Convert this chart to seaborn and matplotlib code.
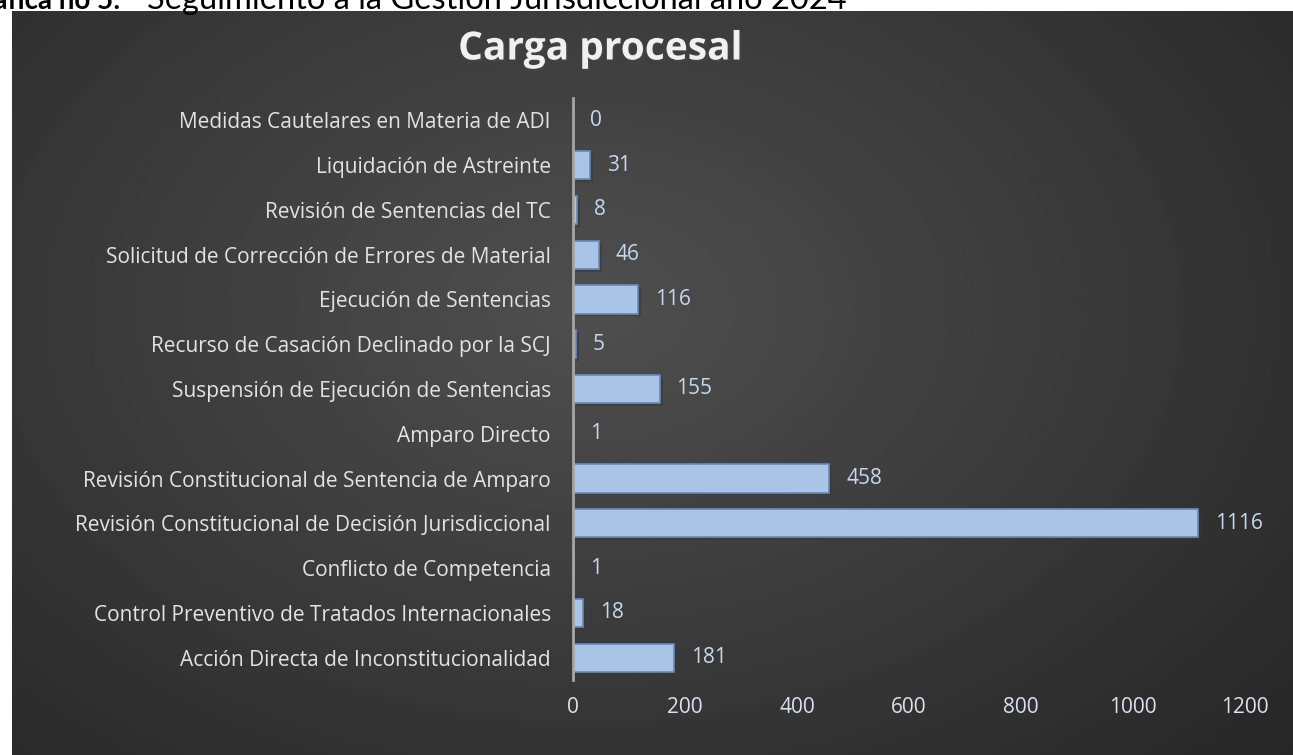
import numpy as np
import matplotlib
matplotlib.use("Agg")
import matplotlib.pyplot as plt
import matplotlib.patheffects as pe
import seaborn as sns
import pandas as pd

categorias = [
    "Medidas Cautelares en Materia de ADI",
    "Liquidación de Astreinte",
    "Revisión de Sentencias del TC",
    "Solicitud de Corrección de Errores de Material",
    "Ejecución de Sentencias",
    "Recurso de Casación Declinado por la SCJ",
    "Suspensión de Ejecución de Sentencias",
    "Amparo Directo",
    "Revisión Constitucional de Sentencia de Amparo",
    "Revisión Constitucional de Decisión Jurisdiccional",
    "Conflicto de Competencia",
    "Control Preventivo de Tratados Internacionales",
    "Acción Directa de Inconstitucionalidad",
]
valores = [0, 31, 8, 46, 116, 5, 155, 1, 458, 1116, 1, 18, 181]
xticks = [0, 200, 400, 600, 800, 1000, 1200]

df = pd.DataFrame({"categoria": categorias, "valor": valores})

sns.set_theme(style="white")
plt.rcParams["font.family"] = ["Open Sans", "DejaVu Sans"]

W, H = 1293, 755
fig = plt.figure(figsize=(W / 100, H / 100), dpi=100)
fig.patch.set_facecolor("white")

# dark gradient panel behind the chart
bg = fig.add_axes([12 / W, 0, 1 - 12 / W, 1 - 11 / H])
yy, xx = np.mgrid[0:1:300j, 0:1:500j]
r = np.sqrt(((xx - 0.45) / 0.75) ** 2 + ((yy - 0.4) / 0.9) ** 2)
r = np.clip(r, 0, 1)
shade = 0.31 - 0.16 * r
bg.imshow(shade, cmap="gray", vmin=0, vmax=1, aspect="auto", extent=[0, 1, 1, 0])
bg.set_axis_off()

# header text, partly cut off at the top as in the document
fig.text(120 / W, 1 - 9 / H, "Gráfica no 5:", fontsize=20, fontweight="bold",
         color="black", ha="right", va="baseline", family=["Lato", "DejaVu Sans"])
fig.text(147 / W, 1 - 9 / H, "Seguimiento a la Gestión Jurisdiccional año 2024",
         fontsize=23.5, color="black", ha="left", va="baseline",
         family=["Lato", "DejaVu Sans"])

ax = fig.add_axes([573 / W, 1 - 680 / H, (1245 - 573) / W, (680 - 98) / H])
ax.patch.set_alpha(0)

sns.barplot(data=df, y="categoria", x="valor", orient="h", ax=ax,
            color="#a9c4e6", edgecolor="#6a8ab5", linewidth=1.2,
            width=0.63, saturation=1)
for p in ax.patches:
    p.set_path_effects([pe.SimplePatchShadow(offset=(2, -2), alpha=0.6),
                        pe.Normal()])

ax.bar_label(ax.containers[0], labels=[str(v) for v in valores],
             padding=12, color="#c6d9f1", fontsize=15)

ax.set_xlim(0, 1200)
ax.set_ylim(12.5, -0.5)
ax.set_xticks(xticks)
ax.set_xticklabels([str(t) for t in xticks], color="#d9e2ee", fontsize=15)
ax.tick_params(axis="x", length=0, pad=12)
ax.tick_params(axis="y", length=0, pad=16, labelcolor="#e3e3e3", labelsize=15)
ax.set_xlabel("")
ax.set_ylabel("")
for s in ["top", "right", "bottom"]:
    ax.spines[s].set_visible(False)
ax.spines["left"].set_color("#a6a6a6")
ax.spines["left"].set_linewidth(2)
ax.grid(False)

fig.text(600 / W, 1 - 49 / H, "Carga procesal", fontsize=28, fontweight="bold",
         color="#f0f0f0", ha="center", va="center",
         path_effects=[pe.withSimplePatchShadow(offset=(1.5, -1.5), alpha=0.5)])

fig.savefig("out.png", dpi=100)
